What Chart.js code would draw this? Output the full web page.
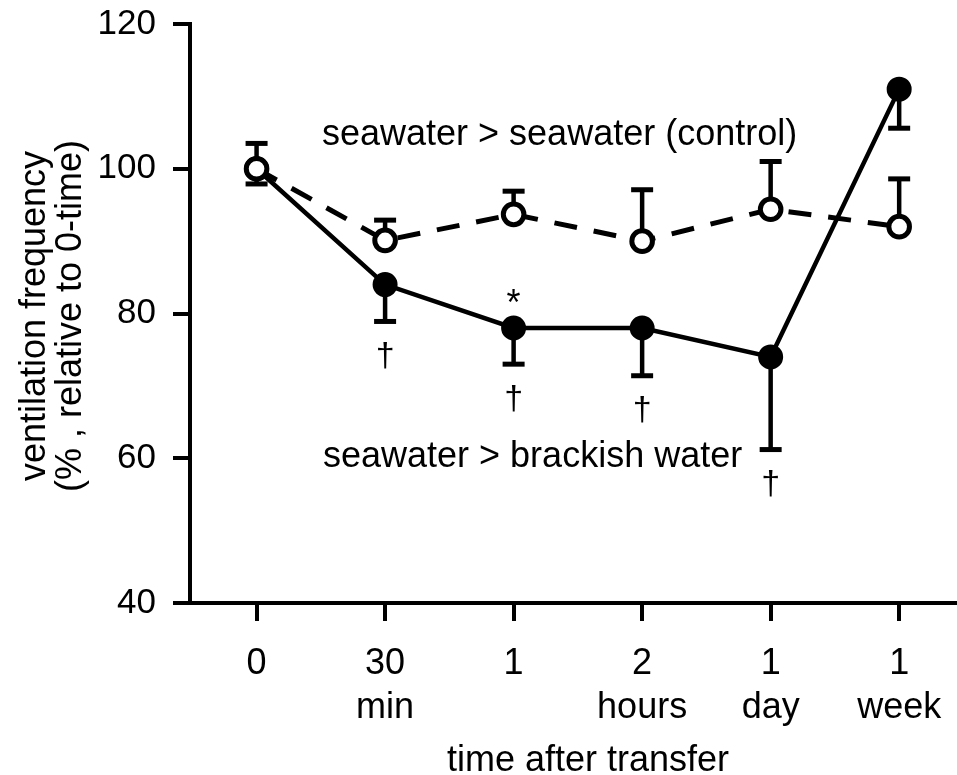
<!DOCTYPE html>
<html>
<head>
<meta charset="utf-8">
<script src="https://cdn.jsdelivr.net/npm/chart.js@4.4.0/dist/chart.umd.min.js"></script>
<style>
  html, body { margin: 0; padding: 0; background: #fff; }
  #wrap { width: 957px; height: 775px; }
</style>
</head>
<body>
<div id="wrap"><canvas id="grafico" width="957" height="775"></canvas></div>
<script>
const FONTE = '"Liberation Sans", Arial, Helvetica, sans-serif';

// eixo x: posições e rótulos (duas linhas)
const tempos = [0, 1, 2, 3, 4, 5];
const rotulosLinha1 = ["0", "30", "1", "2", "1", "1"];
const rotulosLinha2 = ["", "min", "", "hours", "day", "week"];

// seawater > seawater (control) — erro para cima
const controle = [100, 90.1, 93.7, 90.0, 94.4, 92.0];
const controleErro = [3.5, 2.8, 3.2, 7.1, 6.6, 6.6];

// seawater > brackish water — erro para baixo
const salobra = [100, 84.0, 78.0, 78.0, 74.0, 111.0];
const salobraErro = [2.1, 5.1, 5.0, 6.6, 12.8, 5.4];

// marcas de significância
const marcasAdaga = ["", "†", "†", "†", "†", ""];
const marcasAsterisco = ["", "", "*", "", "", ""];

const ticksY = [40, 60, 80, 100, 120];

function texto(ctx, s, x, y, tam, alinh, base, girar) {
  ctx.save();
  ctx.font = tam + "px " + FONTE;
  ctx.textAlign = alinh || "center";
  ctx.textBaseline = base || "alphabetic";
  ctx.translate(x, y);
  if (girar) ctx.rotate(-Math.PI / 2);
  ctx.fillText(s, 0, 0);
  ctx.restore();
}

// ---------------------------------------------------------------------------
// Barras de erro (desenhadas antes dos pontos)
// ---------------------------------------------------------------------------
const pluginErro = {
  id: "barrasErro",
  beforeDatasetsDraw(chart) {
    const ctx = chart.ctx;
    const sx = chart.scales.x, sy = chart.scales.y;
    ctx.save();
    ctx.strokeStyle = "#000";
    chart.data.datasets.forEach(ds => {
      ds.erro.forEach((e, i) => {
        const px = sx.getPixelForValue(ds.data[i].x);
        const v = ds.data[i].y;
        const p0 = sy.getPixelForValue(v);
        const p1 = sy.getPixelForValue(v + ds.sentido * e);
        ctx.lineWidth = 4.5;
        ctx.beginPath(); ctx.moveTo(px, p0); ctx.lineTo(px, p1); ctx.stroke();
        ctx.lineWidth = 5;
        ctx.beginPath(); ctx.moveTo(px - 11, p1); ctx.lineTo(px + 11, p1); ctx.stroke();
      });
    });
    ctx.restore();
  }
};

// ---------------------------------------------------------------------------
// Textos: rótulos dos ticks, das séries, marcas e títulos
// ---------------------------------------------------------------------------
const pluginTextos = {
  id: "textos",
  afterDraw(chart) {
    const ctx = chart.ctx;
    const sx = chart.scales.x, sy = chart.scales.y;
    ctx.save();
    ctx.fillStyle = "#000";

    // rótulos do eixo y
    ticksY.forEach(v => {
      texto(ctx, String(v), 156, sy.getPixelForValue(v), 35, "right", "middle");
    });

    // rótulos do eixo x
    tempos.forEach((t, i) => {
      const px = sx.getPixelForValue(t);
      texto(ctx, rotulosLinha1[i], px, 674, 36);
      if (rotulosLinha2[i]) texto(ctx, rotulosLinha2[i], px, 718, 36);
    });

    // rótulos das séries
    texto(ctx, "seawater > seawater (control)", 322, 145, 36, "left");
    texto(ctx, "seawater > brackish water", 323, 467, 36, "left");

    // adagas abaixo das barras de erro
    marcasAdaga.forEach((m, i) => {
      if (!m) return;
      const px = sx.getPixelForValue(tempos[i]);
      const py = sy.getPixelForValue(salobra[i] - salobraErro[i]) + 35;
      texto(ctx, m, px, py, 34, "center", "middle");
    });

    // asterisco acima do ponto
    marcasAsterisco.forEach((m, i) => {
      if (!m) return;
      const px = sx.getPixelForValue(tempos[i]);
      const py = sy.getPixelForValue(salobra[i]) - 13;
      texto(ctx, m, px, py, 36);
    });

    // título do eixo x
    texto(ctx, "time after transfer", 588, 771, 36);

    // título do eixo y (duas linhas)
    texto(ctx, "ventilation frequency", 45, 316, 36, "center", "alphabetic", true);
    texto(ctx, "(% , relative to 0-time)", 81, 316, 36, "center", "alphabetic", true);
    ctx.restore();
  }
};

const ctx = document.getElementById("grafico").getContext("2d");

new Chart(ctx, {
  type: "line",
  data: {
    datasets: [
      {
        label: "seawater > seawater (control)",
        data: controle.map((v, i) => ({ x: tempos[i], y: v })),
        erro: controleErro,
        sentido: 1,
        borderColor: "#000",
        borderWidth: 5,
        borderDash: [23, 17],
        pointRadius: 10.3,
        pointBorderWidth: 5,
        pointBackgroundColor: "#fff",
        pointBorderColor: "#000",
        tension: 0
      },
      {
        label: "seawater > brackish water",
        data: salobra.map((v, i) => ({ x: tempos[i], y: v })),
        erro: salobraErro,
        sentido: -1,
        borderColor: "#000",
        borderWidth: 4.5,
        pointRadius: 11.5,
        pointBorderWidth: 2,
        pointBackgroundColor: "#000",
        pointBorderColor: "#000",
        tension: 0
      }
    ]
  },
  options: {
    responsive: false,
    animation: false,
    devicePixelRatio: 1,
    layout: { autoPadding: false, padding: { top: 24, right: 0, left: 0, bottom: 0 } },
    plugins: {
      legend: { display: false },
      tooltip: { enabled: false }
    },
    scales: {
      x: {
        type: "linear",
        min: -0.518,
        max: 5.45,
        afterBuildTicks: s => { s.ticks = tempos.map(v => ({ value: v })); },
        afterFit: s => { s.height = 172; },
        border: { display: true, color: "#000", width: 4 },
        grid: { display: true, drawOnChartArea: false, drawTicks: true, tickLength: 18, color: "#000", lineWidth: 4 },
        ticks: { display: false }
      },
      y: {
        min: 40,
        max: 120,
        afterBuildTicks: s => { s.ticks = ticksY.map(v => ({ value: v })); },
        afterFit: s => { s.width = 190; },
        border: { display: true, color: "#000", width: 4 },
        grid: { display: true, drawOnChartArea: false, drawTicks: true, tickLength: 17, color: "#000", lineWidth: 4 },
        ticks: { display: false }
      }
    }
  },
  plugins: [pluginErro, pluginTextos]
});
</script>
</body>
</html>
